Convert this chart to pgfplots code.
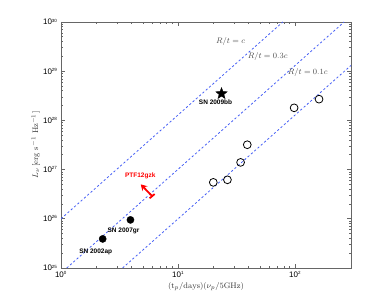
\documentclass[border=0pt]{standalone}
\usepackage{fontspec}
\usepackage{pgfplots}
\pgfplotsset{compat=1.18}
\usetikzlibrary{arrows.meta}
\newfontfamily\hel{Liberation Sans}
\pgfdeclareplotmark{fstar}{%
  \pgfpathmoveto{\pgfpointpolar{90}{\pgfplotmarksize}}%
  \pgfpathlineto{\pgfpointpolar{126}{0.42\pgfplotmarksize}}%
  \pgfpathlineto{\pgfpointpolar{162}{\pgfplotmarksize}}%
  \pgfpathlineto{\pgfpointpolar{198}{0.42\pgfplotmarksize}}%
  \pgfpathlineto{\pgfpointpolar{234}{\pgfplotmarksize}}%
  \pgfpathlineto{\pgfpointpolar{270}{0.42\pgfplotmarksize}}%
  \pgfpathlineto{\pgfpointpolar{306}{\pgfplotmarksize}}%
  \pgfpathlineto{\pgfpointpolar{342}{0.42\pgfplotmarksize}}%
  \pgfpathlineto{\pgfpointpolar{18}{\pgfplotmarksize}}%
  \pgfpathlineto{\pgfpointpolar{54}{0.42\pgfplotmarksize}}%
  \pgfpathclose\pgfusepathqfillstroke}
\definecolor{lineblue}{RGB}{70,95,245}
\begin{document}
\begin{tikzpicture}
\useasboundingbox (-61pt,-35pt) rectangle (313pt,268pt);
\begin{axis}[
  at={(0,0)}, anchor=south west,
  scale only axis, width=290pt, height=246pt,
  xmode=log, ymode=log,
  xmin=1, xmax=300, ymin=1e25, ymax=1e30,
  axis line style={gray!80!black},
  every tick/.style={gray!80!black, semithick},
  tick align=inside,
  major tick length=4pt, minor tick length=2pt,
  tick label style={font=\hel\fontsize{8}{9}\selectfont, black},
  /pgf/number format/assume math mode=true,
  log number format basis/.code 2 args={#1\textsuperscript{\fontsize{4.5}{5}\selectfont\pgfmathprintnumber{#2}}},
  xlabel={$(\mathrm{t}_p/\mathrm{days})(\nu_p/5\mathrm{GHz})$},
  ylabel={$L_\nu\,[\mathrm{erg\ s^{-1}\ Hz^{-1}}]$},
  label style={font=\footnotesize, gray!40!black},
  xlabel style={yshift=2pt},
  ylabel style={yshift=-4pt},
  clip=true,
]
% R/t lines (slope 19/9)
\addplot[lineblue, thick, dash pattern=on 2.2pt off 2.2pt] coordinates {(1,1e26) (78.5,1e30)};
\addplot[lineblue, thick, dash pattern=on 2.2pt off 2.2pt] coordinates {(1.12,1e25) (262,1e30)};
\addplot[lineblue, thick, dash pattern=on 2.2pt off 2.2pt] coordinates {(3.36,1e25) (300,1.31e29)};
% filled circles
\addplot[only marks, mark=*, mark size=3.6pt, black] coordinates {(2.27,3.9e25) (3.92,9.5e25)};
% star
\addplot[only marks, mark=fstar, mark size=6pt, black] coordinates {(23.5,3.5e28)};
% open circles
\addplot[only marks, mark=o, mark size=3.9pt, black, thick] coordinates {
 (20,5.5e26) (26.4,6.2e26) (34.2,1.4e27) (39,3.2e27) (98,1.8e28) (160,2.7e28)};
% PTF12gzk limit
\addplot[red, line width=1.8pt, -{Stealth[length=6pt,width=7pt]}] coordinates {(6.0,2.9e26) (4.8,5.0e26)};
\addplot[red, line width=1.8pt] coordinates {(5.71,2.61e26) (6.31,3.19e26)};
% labels
\node[font=\hel\bfseries\fontsize{6.5}{7}\selectfont] at (axis cs:20.9,2.4e28) {SN 2009bb};
\node[font=\hel\bfseries\fontsize{6.5}{7}\selectfont] at (axis cs:3.42,5.6e25) {SN 2007gr};
\node[font=\hel\bfseries\fontsize{6.5}{7}\selectfont] at (axis cs:1.98,2.14e25) {SN 2002ap};
\node[font=\hel\bfseries\fontsize{6.5}{7}\selectfont, red] at (axis cs:4.75,7.4e26) {PTF12gzk};
\node[font=\footnotesize, gray!60!black] at (axis cs:28.1,4.07e29) {$R/t = c$};
\node[font=\footnotesize, gray!60!black] at (axis cs:58.2,1.95e29) {$R/t = 0.3c$};
\node[font=\footnotesize, gray!60!black] at (axis cs:128,9.5e28) {$R/t = 0.1c$};
\end{axis}
\end{tikzpicture}
\end{document}
